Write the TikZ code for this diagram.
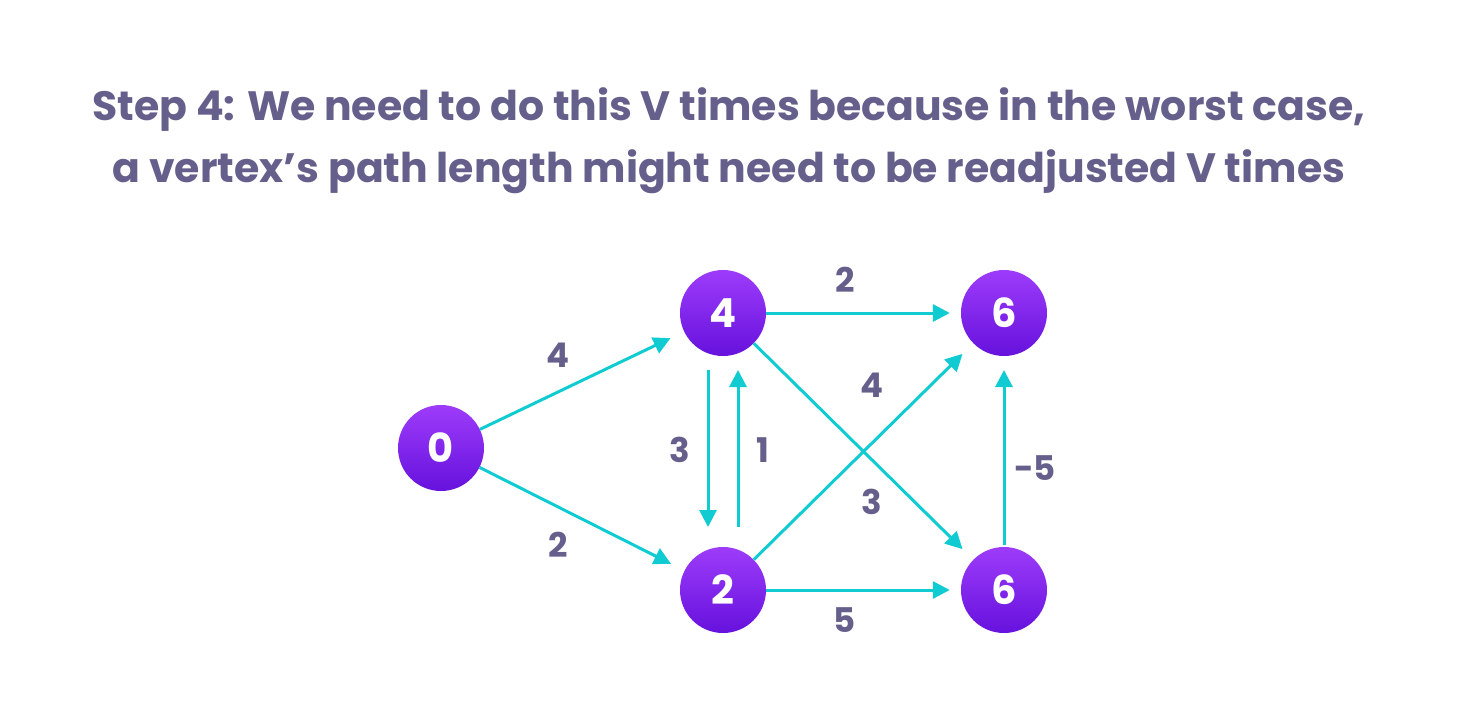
\documentclass[tikz,border=0pt]{standalone}
\usepackage{fontspec}
\setmainfont{Poppins}
\usetikzlibrary{arrows.meta}
\definecolor{lab}{HTML}{655F8C}
\definecolor{edge}{HTML}{10CCD2}
\definecolor{ntop}{HTML}{9D3CFA}
\definecolor{nbot}{HTML}{6611DD}
\tikzset{
 vert/.style={circle,minimum size=86pt,inner sep=0pt,top color=ntop,bottom color=nbot,text=white,font=\fontsize{40}{40}\selectfont\bfseries},
 con/.style={edge,line width=3pt,-{Triangle[length=17pt,width=17pt]}},
 wl/.style={text=lab,font=\fontsize{34}{34}\selectfont\bfseries}
}
\begin{document}
\begin{tikzpicture}[x=1pt,y=-1pt]
\useasboundingbox (0,0) rectangle (1460,728);
\node[text=lab,font=\fontsize{41}{62}\selectfont\bfseries,align=center] (title) at (729,141) {Step 4: We need to do this V times because in the worst case,\\a vertex’s path length might need to be readjusted V times};
\node[vert] (n0) at (441,448) {0};
\node[vert] (n4) at (723,313) {4};
\node[vert] (n6a) at (1004,313) {6};
\node[vert] (n2) at (723,590) {2};
\node[vert] (n6b) at (1004,590) {6};
\coordinate (a1) at (708,370); \coordinate (a2) at (708,527);
\coordinate (b1) at (738,527); \coordinate (b2) at (738,370);
\coordinate (c1) at (1004,545); \coordinate (c2) at (1004,370);
\draw[con,shorten >=15pt] (n0) -- (n4);
\draw[con,shorten >=15pt] (n0) -- (n2);
\draw[con,shorten >=11pt] (n4) -- (n6a);
\draw[con,shorten >=11pt] (n2) -- (n6b);
\draw[con] (a1) -- (a2);
\draw[con] (b1) -- (b2);
\draw[con] (c1) -- (c2);
\draw[con,shorten >=15pt] (n2) -- (n6a);
\draw[con,shorten >=15pt] (n4) -- (n6b);
\node[wl] at (558,355) {4};
\node[wl] at (558,545) {2};
\node[wl] at (845,280) {2};
\node[wl] at (680,450) {3};
\node[wl] at (763,450) {1};
\node[wl] at (872,385) {4};
\node[wl] at (872,502) {3};
\node[wl] at (1035,468) {-5};
\node[wl] at (845,620) {5};
\end{tikzpicture}
\end{document}
